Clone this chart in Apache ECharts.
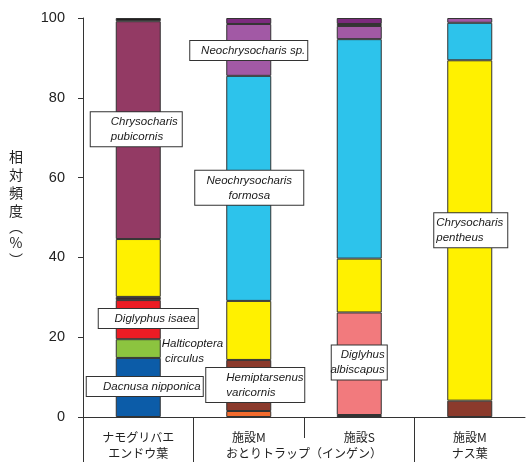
<!DOCTYPE html>
<html><head><meta charset="utf-8">
<script src="https://cdn.jsdelivr.net/npm/echarts@6/dist/echarts.min.js"></script>
<style>html,body{margin:0;padding:0;background:#fff}#c{width:528px;height:462px}</style>
</head><body><div id="c"></div>
<script>
// ---- data ----
const categories = ['ナモグリバエ', '施設M', '施設S', '施設M'];
const groupLabels = ['', 'エンドウ葉', '', '', 'おとりトラップ（インゲン）', '', '', 'ナス葉', ''];
const yAxisName = ['相', '対', '頻', '度', '︵', '%', '︶'];

const otherOrange        = [null, 1.5, null, null];
const hemiptarsenus      = [null, 12.8, null, 4.1];
const darkBottom         = [null, null, 0.5, null];
const dacnusa            = [14.8, null, null, null];
const halticoptera       = [4.7, null, null, null];
const diglyphusIsaea     = [9.8, null, null, null];
const darkMiddle         = [0.8, null, null, null];
const diglyhusAlbiscapus = [null, null, 25.7, null];
const pentheus           = [14.5, 14.8, 13.5, 85.3];
const pubicornis         = [54.6, null, null, null];
const formosa            = [null, 56.4, 55.0, 9.4];
const neochrysocharisSp  = [null, 13.0, 3.3, 1.2];
const darkLine           = [null, null, 0.5, null];
const otherPurple        = [null, 1.5, 1.5, null];
const blackTop           = [0.8, null, null, null];

// ---- styles ----
const species = [
  {name: 'other (orange)', data: otherOrange, color: '#f26b2d'},
  {name: 'Hemiptarsenus varicornis', data: hemiptarsenus, color: '#8b3a2c'},
  {name: 'other (dark, bottom)', data: darkBottom, color: '#3a2a2a'},
  {name: 'Dacnusa nipponica', data: dacnusa, color: '#0c5ca8'},
  {name: 'Halticoptera circulus', data: halticoptera, color: '#8cc43f'},
  {name: 'Diglyphus isaea', data: diglyphusIsaea, color: '#ed1c24'},
  {name: 'other (dark, middle)', data: darkMiddle, color: '#3b2a2e'},
  {name: 'Diglyhus albiscapus', data: diglyhusAlbiscapus, color: '#f27a7d'},
  {name: 'Chrysocharis pentheus', data: pentheus, color: '#fff100'},
  {name: 'Chrysocharis pubicornis', data: pubicornis, color: '#933a64'},
  {name: 'Neochrysocharis formosa', data: formosa, color: '#2dc3eb'},
  {name: 'Neochrysocharis sp.', data: neochrysocharisSp, color: '#a259a5'},
  {name: 'other (dark line)', data: darkLine, color: '#3b2a35'},
  {name: 'other (purple)', data: otherPurple, color: '#7c2b7e'},
  {name: 'other (black)', data: blackTop, color: '#231f20'}
];

const annotations = {
  'Chrysocharis pubicornis': {cat: 0, text: 'Chrysocharis\npubicornis', left: -25, top: 91, w: 91, h: 34, align: 'left', pad: [2, 2, 2, 20], box: true},
  'Diglyphus isaea': {cat: 0, text: 'Diglyphus isaea', left: -17, top: 9, w: 99, h: 19, align: 'right', pad: [2, 2, 2, 2], box: true},
  'Halticoptera circulus': {cat: 0, text: 'Halticoptera\n circulus', left: 46, top: -3, w: 70, h: 30, align: 'left', pad: [0, 0, 0, 0], box: false},
  'Dacnusa nipponica': {cat: 0, text: 'Dacnusa nipponica', left: -29, top: 19, w: 116, h: 19, align: 'right', pad: [2, 2, 2, 2], box: true},
  'Neochrysocharis sp.': {cat: 1, text: 'Neochrysocharis sp.', left: -36, top: 17, w: 117, h: 19, align: 'right', pad: [2, 2, 2, 2], box: true},
  'Neochrysocharis formosa': {cat: 1, text: 'Neochrysocharis\nformosa', left: -31, top: 95, w: 108, h: 34, align: 'center', pad: [2, 2, 2, 2], box: true},
  'Hemiptarsenus varicornis': {cat: 1, text: 'Hemiptarsenus\nvaricornis', left: -20, top: 8, w: 98, h: 34, align: 'left', pad: [2, 1, 2, 20], box: true},
  'Diglyhus albiscapus': {cat: 2, text: 'Diglyhus\nalbiscapus', left: -5, top: 33, w: 55, h: 34, align: 'right', pad: [2, 2, 2, 2], box: true},
  'Chrysocharis pentheus': {cat: 3, text: 'Chrysocharis\npentheus', left: -13, top: 153, w: 73, h: 34, align: 'left', pad: [2, 2, 2, 2], box: true}
};

function makeLabel(a) {
  const [pt, pr, pb, pl] = a.pad;
  const x = a.align === 'left' ? a.left : (a.align === 'right' ? a.left + a.w : a.left + a.w / 2);
  return {
    show: true,
    position: [x, a.top],
    align: a.align,
    verticalAlign: 'top',
    width: a.w - pl - pr,
    height: a.h - pt - pb,
    padding: a.pad,
    overflow: 'none',
    backgroundColor: a.box ? '#ffffff' : 'transparent',
    borderColor: a.box ? '#333333' : 'transparent',
    borderWidth: a.box ? 1 : 0,
    fontStyle: 'italic',
    fontSize: 11.5,
    lineHeight: 15,
    color: '#1a1a1a',
    fontFamily: 'Liberation Sans, Arial, sans-serif',
    formatter: a.text
  };
}

const series = species.map(s => {
  const a = annotations[s.name];
  return {
    name: s.name,
    type: 'bar',
    stack: 'total',
    barWidth: 45,
    xAxisIndex: 0,
    data: s.data.map((v, i) => (a && a.cat === i && v != null) ? {value: v, label: makeLabel(a)} : v),
    itemStyle: {color: s.color, borderColor: '#333', borderWidth: 1},
    emphasis: {disabled: true},
    silent: true
  };
});

// y axis name as rich text: parentheses take less vertical room
const nameRich = yAxisName.map(ch => (ch === '︵' ? '{p1|' + ch + '}' : ch === '︶' ? '{p2|' + ch + '}' : '{a|' + ch + '}')).join('\n');

const chart = echarts.init(document.getElementById('c'), null, {renderer: 'canvas'});
chart.setOption({
  animation: false,
  backgroundColor: '#ffffff',
  grid: {left: 83, right: 0, top: 18, bottom: 45, containLabel: false},
  xAxis: [
    {
      type: 'category', data: categories, position: 'bottom',
      axisLine: {show: true, lineStyle: {color: '#333', width: 1}},
      axisTick: {show: false},
      axisLabel: {interval: 0, margin: 14, fontSize: 12, color: '#222', fontFamily: 'Noto Sans CJK JP'}
    },
    {
      type: 'category', data: groupLabels, position: 'bottom', boundaryGap: false,
      axisLine: {show: false},
      axisTick: {show: true, length: 45, lineStyle: {color: '#333'},
        interval: (i) => i === 0 || i === 2 || i === 6},
      axisLabel: {interval: 0, margin: 30, fontSize: 12, color: '#222', fontFamily: 'Noto Sans CJK JP'}
    },
    {
      type: 'category', data: groupLabels, position: 'bottom', boundaryGap: false,
      axisLine: {show: false},
      axisTick: {show: true, length: 21, lineStyle: {color: '#333'},
        interval: (i) => i === 4},
      axisLabel: {show: false}
    }
  ],
  yAxis: {
    type: 'value', min: 0, max: 100, interval: 20,
    axisLine: {show: true, lineStyle: {color: '#333', width: 1}},
    axisTick: {show: true, length: 5, lineStyle: {color: '#333'}},
    splitLine: {show: false},
    axisLabel: {margin: 18, fontSize: 14.5, color: '#222', fontFamily: 'Liberation Sans, Arial, sans-serif'},
    name: nameRich,
    nameLocation: 'middle',
    nameRotate: 0,
    nameGap: 67,
    nameTextStyle: {
      color: '#222', fontFamily: 'Noto Sans CJK JP', align: 'center', verticalAlign: 'middle',
      padding: [0, 0, 19, 0],
      rich: {
        a: {fontSize: 14, lineHeight: 18, color: '#222', fontFamily: 'Noto Sans CJK JP'},
        p1: {fontSize: 14, lineHeight: 14, color: '#222', fontFamily: 'Noto Sans CJK JP'},
        p2: {fontSize: 14, lineHeight: 16, color: '#222', fontFamily: 'Noto Sans CJK JP'}
      }
    }
  },
  series: series
});
</script></body></html>
